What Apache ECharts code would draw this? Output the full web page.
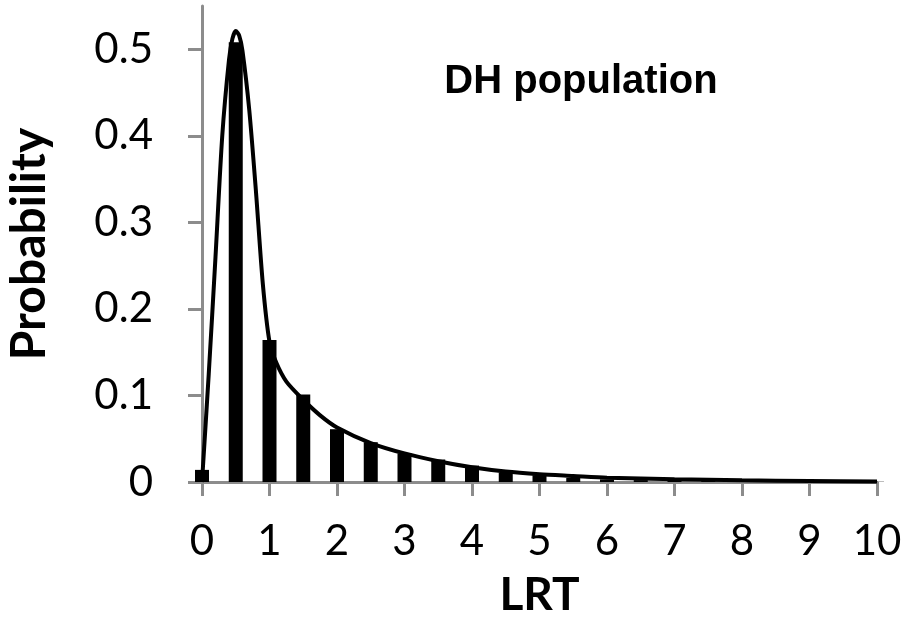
<!DOCTYPE html>
<html>
<head>
<meta charset="utf-8">
<script src="https://cdn.jsdelivr.net/npm/echarts@6/dist/echarts.min.js"></script>
<style>
html,body{margin:0;padding:0;background:#fff;}
#chart{width:904px;height:617px;}
</style>
</head>
<body>
<div id="chart"></div>
<script>
// Bar data (LRT bins every 0.5)
const barX = [0, 0.5, 1, 1.5, 2, 2.5, 3, 3.5, 4, 4.5, 5, 5.5, 6, 6.5, 7, 7.5, 8, 8.5, 9, 9.5, 10];
const barProb = [0.014, 0.508, 0.164, 0.101, 0.061, 0.046, 0.033, 0.026, 0.019, 0.011, 0.0078, 0.0046, 0.003, 0.0022, 0.0016, 0.0012, 0.0009, 0.0007, 0.0005, 0.0004, 0.0003];
// Fitted curve samples
const curveX = [0, 0.1, 0.2, 0.3, 0.4, 0.45, 0.5, 0.55, 0.6, 0.7, 0.8, 0.9, 1.0, 1.1, 1.25, 1.5, 1.75, 2, 2.5, 3, 3.5, 4, 4.5, 5, 5.5, 6, 7, 8, 9, 10];
const curveProb = [0, 0.125, 0.26, 0.4, 0.488, 0.512, 0.521, 0.516, 0.498, 0.43, 0.335, 0.23, 0.162, 0.138, 0.116, 0.095, 0.077, 0.063, 0.045, 0.033, 0.024, 0.017, 0.012, 0.009, 0.007, 0.005, 0.0032, 0.002, 0.0012, 0.0006];
const yTicks = [0, 0.1, 0.2, 0.3, 0.4, 0.5];

const axisGray = '#8c8c8c';
const chart = echarts.init(document.getElementById('chart'), null, {renderer: 'canvas'});
chart.setOption({
  animation: false,
  backgroundColor: '#ffffff',
  grid: {left: 202, right: 27, top: 6, bottom: 135, containLabel: false, outerBoundsMode: 'none'},
  xAxis: {
    type: 'value', min: 0, max: 10, interval: 1,
    name: 'LRT', nameLocation: 'middle', nameGap: 90,
    nameTextStyle: {fontFamily: 'Lato', fontWeight: 'bold', fontSize: 46, color: '#000'},
    axisLine: {show: true, onZero: false, lineStyle: {color: axisGray, width: 3}},
    axisTick: {show: true, inside: false, length: 14, lineStyle: {color: axisGray, width: 3}},
    axisLabel: {margin: 38, fontFamily: 'Lato', fontSize: 42, color: '#000'},
    splitLine: {show: false}
  },
  yAxis: {
    type: 'value', min: 0, max: 0.55,
    name: 'Probability', nameLocation: 'middle', nameGap: 148, nameRotate: 90,
    nameTextStyle: {fontFamily: 'Lato', fontWeight: 'bold', fontSize: 48, color: '#000'},
    axisLine: {show: true, lineStyle: {color: axisGray, width: 3}},
    axisTick: {show: true, length: 14, customValues: yTicks, lineStyle: {color: axisGray, width: 3}},
    axisLabel: {margin: 49, fontFamily: 'Lato', fontSize: 42, color: '#000', customValues: yTicks,
      formatter: v => String(Math.round(v * 10) / 10)},
    splitLine: {show: false}
  },
  series: [
    {
      type: 'bar', barWidth: 14, clip: true,
      itemStyle: {color: '#000'},
      data: barX.map((x, i) => [x, barProb[i]]),
      z: 2
    },
    {
      type: 'line', smooth: 0.25, showSymbol: false, symbol: 'none',
      lineStyle: {color: '#000', width: 4},
      data: curveX.map((x, i) => [x, curveProb[i]]),
      z: 3
    }
  ],
  graphic: [{
    type: 'text', x: 581, y: 82,
    style: {text: 'DH population', font: 'bold 40px "Liberation Sans"', fill: '#000', align: 'center', verticalAlign: 'middle'}
  }]
});
</script>
</body>
</html>
